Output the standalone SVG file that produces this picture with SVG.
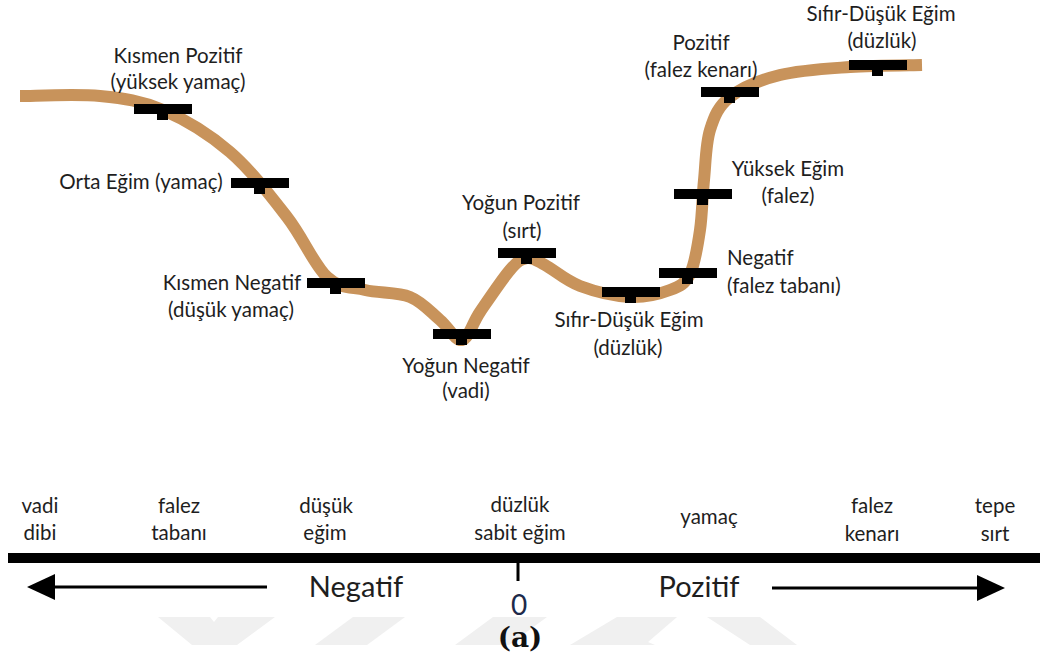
<svg xmlns="http://www.w3.org/2000/svg" xmlns:xlink="http://www.w3.org/1999/xlink" width="1040" height="660" viewBox="0 0 1040 660">
  <style>
    .lbl { font-family: Lato, "Open Sans", "Liberation Sans", sans-serif; font-size: 20.5px; fill: #1e1e1e; text-anchor: middle; }
    .start { text-anchor: start; }
    .big { font-size: 29px; }
    .zero { font-size: 28px; fill: #1d2a4a; }
    .cap { font-family: "DejaVu Serif", "Liberation Serif", serif; font-size: 28px; font-weight: bold; fill: #111; text-anchor: middle; }
    .profile { fill: none; stroke: #C8935B; stroke-width: 12; stroke-linejoin: round; }
    .arrow { stroke: #000; stroke-width: 3; fill: none; }
    .wm { fill: #f0f0f0; }
  </style>
  <defs>
    <!-- slope-class marker: horizontal bar with a short tab underneath -->
    <g id="bar">
      <rect x="0" y="0" width="58" height="10" fill="#000"/>
      <rect x="23" y="10" width="11" height="6" fill="#000"/>
    </g>
    <marker id="head" viewBox="0 0 28 26" markerUnits="userSpaceOnUse" markerWidth="28" markerHeight="26" refX="0" refY="13" orient="auto">
      <path d="M0,0 L28,13 L0,26 Z" fill="#000"/>
    </marker>
  </defs>

  <rect width="1040" height="660" fill="#fff"/>

  <!-- faint background emblem -->
  <g id="emblem">
    <polygon class="wm" points="158,617 210,617 214,622 218,617 275,617 237,645 192,645"/>
    <polygon class="wm" points="353,617 405,617 367,645 315,645"/>
    <polygon class="wm" points="493,617 547,617 509,645 455,645"/>
    <polygon class="wm" points="570,645 617,617 677,617 648,642 655,645"/>
    <polygon class="wm" points="707,617 760,617 797,645 750,645"/>
  </g>

  <!-- terrain profile -->
  <g id="connectors">
    <path class="profile" d="M20,96 C33.3,96 76.2,93.7 100,96 C123.8,98.3 141.3,100.7 163,110 C184.7,119.3 209.3,134.2 230,152 C250.7,169.8 270.8,196.2 287,217 C303.2,237.8 314,264.8 327,277 C340,289.2 351.2,286.7 365,290 C378.8,293.3 397.5,292 410,297 C422.5,302 431.3,312.8 440,320 C448.7,327.2 455.3,341.3 462,340 C468.7,338.7 472,323.7 480,312 C488,300.3 502.2,279 510,270 C517.8,261 521.2,258.8 527,258 C532.8,257.2 536.2,260.3 545,265 C553.8,269.7 565.8,280.7 580,286 C594.2,291.3 615,296.3 630,297 C645,297.7 660,293.8 670,290 C680,286.2 685,284 690,274 C695,264 697.7,245.7 700,230 C702.3,214.3 702.3,196.7 704,180 C705.7,163.3 705.7,143.8 710,130 C714.3,116.2 718.3,106.2 730,97 C741.7,87.8 760,80 780,75 C800,70 826.3,68.7 850,67 C873.7,65.3 910,65.3 922,65"/>
  </g>

  <g id="n-kismen-pozitif">
    <use xlink:href="#bar" href="#bar" x="134" y="104"/>
    <text class="lbl" x="178" y="63">Kısmen Pozitif</text>
    <text class="lbl" x="178" y="89">(yüksek yamaç)</text>
  </g>
  <g id="n-orta-egim">
    <use xlink:href="#bar" href="#bar" x="231" y="178"/>
    <text class="lbl" x="141" y="189">Orta Eğim (yamaç)</text>
  </g>
  <g id="n-kismen-negatif">
    <use xlink:href="#bar" href="#bar" x="307" y="278"/>
    <text class="lbl" x="232" y="290">Kısmen Negatif</text>
    <text class="lbl" x="231" y="317">(düşük yamaç)</text>
  </g>
  <g id="n-yogun-negatif">
    <use xlink:href="#bar" href="#bar" x="433" y="329"/>
    <text class="lbl" x="466" y="373">Yoğun Negatif</text>
    <text class="lbl" x="466" y="398">(vadi)</text>
  </g>
  <g id="n-yogun-pozitif">
    <use xlink:href="#bar" href="#bar" x="498" y="248"/>
    <text class="lbl" x="521" y="210">Yoğun Pozitif</text>
    <text class="lbl" x="522" y="238">(sırt)</text>
  </g>
  <g id="n-duzluk-alt">
    <use xlink:href="#bar" href="#bar" x="602" y="287"/>
    <text class="lbl" x="629" y="327">Sıfır-Düşük Eğim</text>
    <text class="lbl" x="628" y="355">(düzlük)</text>
  </g>
  <g id="n-falez-tabani">
    <use xlink:href="#bar" href="#bar" x="659" y="268"/>
    <text class="lbl start" x="727" y="265">Negatif</text>
    <text class="lbl start" x="727" y="293">(falez tabanı)</text>
  </g>
  <g id="n-falez">
    <use xlink:href="#bar" href="#bar" x="674" y="189"/>
    <text class="lbl" x="788" y="176">Yüksek Eğim</text>
    <text class="lbl" x="788" y="203">(falez)</text>
  </g>
  <g id="n-falez-kenari">
    <use xlink:href="#bar" href="#bar" x="701" y="87"/>
    <text class="lbl" x="701" y="50">Pozitif</text>
    <text class="lbl" x="701" y="77">(falez kenarı)</text>
  </g>
  <g id="n-duzluk-ust">
    <use xlink:href="#bar" href="#bar" x="849" y="60"/>
    <text class="lbl" x="881" y="21">Sıfır-Düşük Eğim</text>
    <text class="lbl" x="882" y="48">(düzlük)</text>
  </g>

  <!-- slope scale -->
  <g id="scale">
    <text class="lbl" x="40" y="513">vadi</text>
    <text class="lbl" x="40" y="540">dibi</text>
    <text class="lbl" x="179" y="513">falez</text>
    <text class="lbl" x="179" y="540">tabanı</text>
    <text class="lbl" x="326" y="513">düşük</text>
    <text class="lbl" x="325" y="540">eğim</text>
    <text class="lbl" x="520" y="512">düzlük</text>
    <text class="lbl" x="520" y="540">sabit eğim</text>
    <text class="lbl" x="709" y="524">yamaç</text>
    <text class="lbl" x="872" y="513">falez</text>
    <text class="lbl" x="872" y="541">kenarı</text>
    <text class="lbl" x="995" y="513">tepe</text>
    <text class="lbl" x="995" y="541">sırt</text>

    <rect x="8" y="553" width="1032" height="10" fill="#000"/>
    <line x1="518" y1="563" x2="518" y2="581" stroke="#000" stroke-width="3"/>
    <line class="arrow" x1="267" y1="587" x2="55" y2="587" marker-end="url(#head)"/>
    <line class="arrow" x1="772" y1="588" x2="977" y2="588" marker-end="url(#head)"/>
    <text class="lbl big" x="356" y="597">Negatif</text>
    <text class="lbl big" x="699" y="597">Pozitif</text>
    <text class="lbl zero" x="519" y="615">0</text>
    <text class="cap" x="520" y="647">(a)</text>
  </g>
</svg>
